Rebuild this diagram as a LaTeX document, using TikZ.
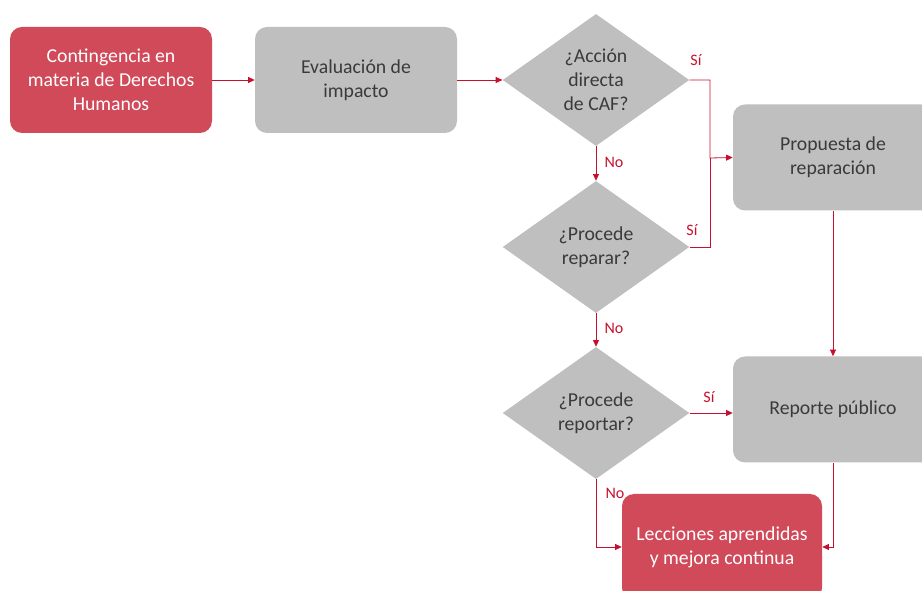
\documentclass[tikz,border=0pt]{standalone}
\usepackage{fontspec}
\setmainfont{Carlito}
\usetikzlibrary{arrows.meta,positioning,shapes.geometric}

\definecolor{cafred}{HTML}{D04A5A}
\definecolor{cafgray}{HTML}{BFBFBF}
\definecolor{cafline}{HTML}{C8102E}
\definecolor{caftext}{HTML}{3A3A3A}

\begin{document}
\begin{tikzpicture}[x=0.75pt,y=-0.75pt,
  box/.style={rounded corners=9pt,minimum width=151.5pt,minimum height=79.5pt,
    align=center,font=\fontsize{14.8}{18}\selectfont,inner sep=2pt},
  redbox/.style={box,fill=cafred,text=white},
  graybox/.style={box,fill=cafgray,text=caftext},
  decision/.style={diamond,fill=cafgray,text=caftext,aspect=1.4,inner sep=0pt,
    minimum width=140pt,minimum height=99pt,align=center,
    font=\fontsize{14.8}{18}\selectfont},
  flow/.style={draw=cafline,line width=0.6pt,-{Triangle[length=5pt,width=4.5pt]}},
  lbl/.style={text=cafline,font=\fontsize{12}{14}\selectfont,inner sep=0pt}]
\useasboundingbox (0,0) rectangle (922,591);

% nodes
\node[redbox]  (cont) at (111,80)  {Contingencia en\\materia de Derechos\\Humanos};
\node[graybox] (eval) at (356,80)  {Evaluación de\\impacto};
\node[decision] (d1) at (596,80)   {¿Acción\\directa\\de CAF?};
\node[decision] (d2) at (596,247)  {¿Procede\\reparar?};
\node[decision] (d3) at (596,413)  {¿Procede\\reportar?};
\node[graybox,minimum width=150pt] (prop) at (833,157.5) {Propuesta de\\reparación};
\node[graybox,minimum width=150pt] (rep)  at (833,409.5) {Reporte público};
\node[redbox,minimum width=150pt]  (lec)  at (722,547)   {Lecciones aprendidas\\y mejora continua};
\coordinate (jn) at (710,158);

% connectors
\draw[flow] (cont) -- (eval);
\draw[flow] (eval) -- (d1);
\draw[flow] (d1.east) -| (jn) -- (prop.west);
\draw[draw=cafline,line width=0.6pt] (d2.east) -| (jn);
\draw[flow] (d1) -- (d2);
\draw[flow] (d2) -- (d3);
\draw[flow] (d3.east) -- (d3.east -| rep.west);
\draw[flow] (prop) -- (rep);
\draw[flow] (d3.south) |- (lec.west);
\draw[flow] (rep.south) |- (lec.east);

% labels
\node[lbl] (s1) at (696,60)  {Sí};
\node[lbl] (s2) at (692,230) {Sí};
\node[lbl] (s3) at (709,397) {Sí};
\node[lbl] (n1) at (614,162) {No};
\node[lbl] (n2) at (614,328) {No};
\node[lbl] (n3) at (615,493) {No};

\end{tikzpicture}
\end{document}
